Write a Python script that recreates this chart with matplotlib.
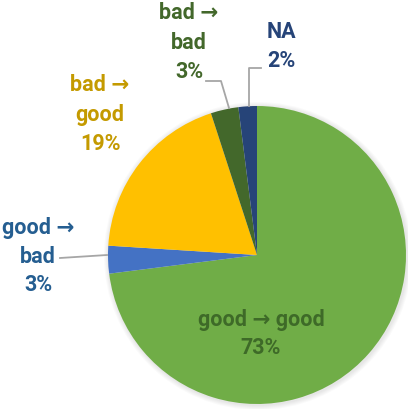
import matplotlib
matplotlib.use("Agg")
import matplotlib.pyplot as plt
from matplotlib.patches import Circle

# Transition shares (percent), clockwise from 12 o'clock
categories = ["good → good", "good → bad", "bad → good", "bad → bad", "NA"]
shares = [73, 3, 19, 3, 2]
slice_colors = ["#70AD47", "#4472C4", "#FFC000", "#43682B", "#264478"]
label_colors = ["#3E6A28", "#255E91", "#C49A00", "#43682B", "#264478"]

W, H = 408, 409
fig = plt.figure(figsize=(W / 100, H / 100), dpi=100)
ax = fig.add_axes([0, 0, 1, 1])

cx, cy, r = 257, H - 255, 149

# soft drop shadow behind the pie
for i, a in enumerate([0.018, 0.018, 0.018, 0.02, 0.02]):
    ax.add_patch(Circle((cx + 1, cy - 1), r + 5 - i, color="black", alpha=a, lw=0, zorder=0))

wedges, _ = ax.pie(shares, colors=slice_colors, startangle=90, counterclock=False,
                   center=(cx, cy), radius=r, wedgeprops=dict(linewidth=0),
                   frame=True)
ax.set_xlim(0, W)
ax.set_ylim(0, H)
ax.set_aspect("equal")
ax.axis("off")

font = dict(family=["Roboto", "DejaVu Sans"], fontweight="bold", fontsize=15.5,
            ha="center", va="center")

def label(x, lines, color):
    for txt, y in lines:
        ax.text(x, H - y, txt, color=color, **font)

# good -> good
label(261, [("good → good", 320), ("73%", 348)], label_colors[0])
# good -> bad
label(38, [("good →", 228), ("bad", 257), ("3%", 285)], label_colors[1])
# bad -> good
label(100, [("bad →", 85), ("good", 115), ("19%", 144)], label_colors[2])
# bad -> bad
label(189, [("bad →", 13), ("bad", 43), ("3%", 72)], label_colors[3])
# NA
label(281, [("NA", 32), ("2%", 61)], label_colors[4])

# leader lines
lc = dict(color="#A6A6A6", lw=1.3, zorder=5)
ax.plot([60, 107], [H - 258, H - 255], **lc)
ax.plot([206, 221, 229], [H - 81, H - 81, H - 108], **lc)
ax.plot([261, 249, 249], [H - 68, H - 68, H - 106], **lc)

fig.savefig("out.png", dpi=100, facecolor="white")
